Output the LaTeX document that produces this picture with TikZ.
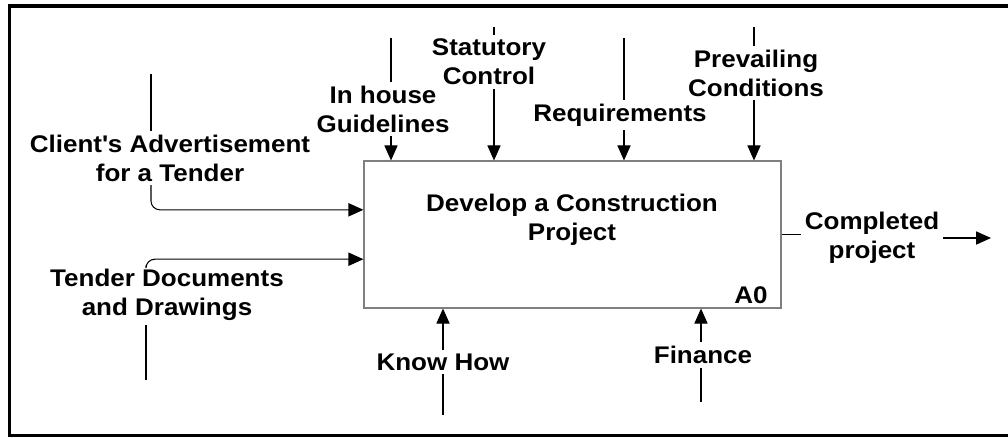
\documentclass[tikz,border=0pt]{standalone}
\usepackage{fontspec}
\setmainfont{Liberation Sans}[FakeStretch=1.08]
\usetikzlibrary{positioning,calc,arrows.meta}

\tikzset{
	lbl/.style={font=\fontsize{13.7}{16.5}\selectfont\bfseries, align=center, inner sep=2pt},
	flow/.style={line width=0.6pt, -{Triangle[length=8.5pt,width=7.5pt]}},
	stub/.style={line width=0.6pt},
}

\begin{document}
\begin{tikzpicture}[x=0.02cm,y=-0.02cm]
	\useasboundingbox (0,0) rectangle (1008,437);
	\draw[line width=2pt] (1012,6) -- (9.5,6) -- (9.5,435.5) -- (1012,435.5);

	% activity box
	\node[draw=gray, line width=0.7pt, minimum width=8.34cm, minimum height=2.94cm] (box) at (572.5,234.5) {};
	\node[lbl] (title) at (572,220) {Develop a Construction\\Project};
	\node[lbl] (a0) at (751,295) {A0};
	\coordinate (in1) at ($(box.north west)!1/3!(box.south west)$);
	\coordinate (in2) at ($(box.north west)!2/3!(box.south west)$);

	% controls
	\coordinate (inhouseTop) at (391,38);
	\coordinate (statTop) at (494,27);
	\coordinate (reqTop) at (624,38);
	\coordinate (prevTop) at (754,27);
	\node[lbl] (inhouse) at (383,109) {In house\\Guidelines};
	\node[lbl] (stat) at (489,62) {Statutory\\Control};
	\node[lbl] (req) at (620,115) {Requirements};
	\node[lbl] (prev) at (756,73) {Prevailing\\Conditions};
	\draw[stub] (inhouseTop) -- (inhouse.north -| inhouseTop);
	\draw[flow] (inhouse.south -| inhouseTop) -- (box.north -| inhouseTop);
	\draw[stub] (statTop) -- (stat.north -| statTop);
	\draw[flow] (stat.south -| statTop) -- (box.north -| statTop);
	\draw[stub] (reqTop) -- (req.north -| reqTop);
	\draw[flow] (req.south -| reqTop) -- (box.north -| reqTop);
	\draw[stub] (prevTop) -- (prev.north -| prevTop);
	\draw[flow] (prev.south -| prevTop) -- (box.north -| prevTop);

	% inputs
	\coordinate (clientTop) at (151,74);
	\coordinate (tenderBot) at (146,380);
	\node[lbl] (client) at (170,158) {Client\textquotesingle s Advertisement\\for a Tender};
	\node[lbl] (tender) at (167,295) {Tender Documents\\and Drawings};
	\draw[stub] (clientTop) -- (client.north -| clientTop);
	\draw[flow, rounded corners=5pt] (client.south -| clientTop) -- (in1 -| clientTop) -- (in1);
	\draw[stub] (tenderBot) -- (tender.south -| tenderBot);
	\draw[flow, rounded corners=5pt] (tender.north -| tenderBot) -- (in2 -| tenderBot) -- (in2);

	% mechanisms
	\coordinate (knowBot) at (443,415);
	\coordinate (finBot) at (701,402);
	\node[lbl] (know) at (443,362) {Know How};
	\node[lbl] (fin) at (703,355) {Finance};
	\draw[stub] (knowBot) -- (know.south -| knowBot);
	\draw[flow] (know.north -| knowBot) -- (box.south -| knowBot);
	\draw[stub] (finBot) -- (fin.south -| finBot);
	\draw[flow] (fin.north -| finBot) -- (box.south -| finBot);

	% output
	\coordinate (doneEnd) at (991,238);
	\node[lbl] (done) at (872,238) {Completed\\project};
	\draw[stub] (box.east) -- (done.west |- box.east);
	\draw[flow] (done.east) -- (doneEnd);
\end{tikzpicture}
\end{document}
